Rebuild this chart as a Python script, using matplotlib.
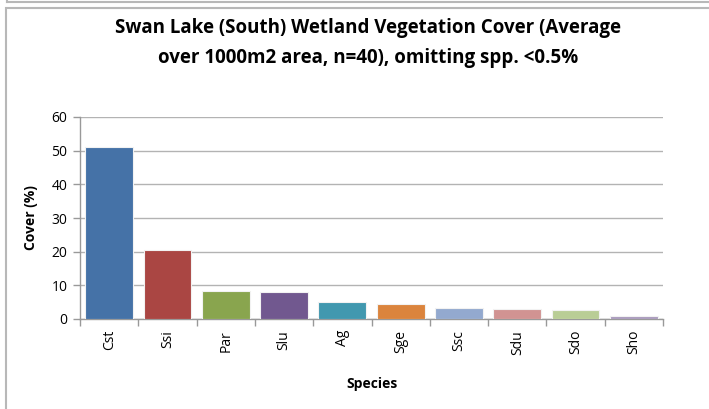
import matplotlib
matplotlib.use("Agg")
import matplotlib.pyplot as plt
from matplotlib.patches import Rectangle
from matplotlib.lines import Line2D

species = ["Cst", "Ssi", "Par", "Slu", "Ag", "Sge", "Ssc", "Sdu", "Sdo", "Sho"]
cover = [51.0, 20.6, 8.4, 8.1, 5.0, 4.4, 3.4, 3.1, 2.6, 0.8]
colors = ["#4572A7", "#AA4643", "#89A54E", "#71588F", "#4198AF",
          "#DB843D", "#93A9CF", "#D19392", "#B9CD96", "#A99BBD"]
yticks = [0, 10, 20, 30, 40, 50, 60]

plt.rcParams['font.family'] = ['Open Sans', 'DejaVu Sans']

W, H = 709, 409
fig = plt.figure(figsize=(W / 100, H / 100), dpi=100)

# chart frames
fig.add_artist(Rectangle((6 / W, -0.1), 1.2, (H - 8) / H + 0.1, transform=fig.transFigure,
                         fill=False, edgecolor="#b8b8b8", linewidth=1.5))
fig.add_artist(Line2D([7 / W, 1.0], [1 - 2 / H, 1 - 2 / H], transform=fig.transFigure,
                      color="#b8b8b8", linewidth=1.5))
fig.add_artist(Line2D([7 / W, 7 / W], [1 - 2 / H, 1.0], transform=fig.transFigure,
                      color="#b8b8b8", linewidth=1.5))

left, right, top, bottom = 80, 663, 117, 319
ax = fig.add_axes([left / W, 1 - bottom / H, (right - left) / W, (bottom - top) / H])

x = list(range(len(species)))
ax.bar(x, cover, width=0.82, color=colors, edgecolor="#f2f2f2", linewidth=0.8, zorder=3)

ax.set_xlim(-0.5, len(species) - 0.5)
ax.set_ylim(0, 60)
ax.set_yticks(yticks)
ax.set_yticklabels([str(v) for v in yticks], fontsize=10)
ax.grid(axis="y", color="#b3b3b3", linewidth=1.0, zorder=0)

ax.set_xticks(x)
ax.set_xticklabels(species, rotation=90, fontsize=10)
ax.tick_params(axis="x", length=0, pad=8)
ax.set_xticks([i - 0.5 for i in range(len(species) + 1)], minor=True)
ax.tick_params(axis="x", which="minor", length=5, color="#999999", width=1)
ax.tick_params(axis="y", length=5, color="#999999", width=1, pad=4)

for s in ["top", "right"]:
    ax.spines[s].set_visible(False)
for s in ["left", "bottom"]:
    ax.spines[s].set_color("#999999")
    ax.spines[s].set_linewidth(1)

ax.set_ylabel("Cover (%)", fontsize=10, fontweight="bold", labelpad=10)
ax.set_xlabel("Species", fontsize=10, fontweight="bold", labelpad=16)

fig.text(368 / W, 1 - 43 / H,
         "Swan Lake (South) Wetland Vegetation Cover (Average\nover 1000m2 area, n=40), omitting spp. <0.5%",
         ha="center", va="center", fontsize=13.5, fontweight="bold", linespacing=1.65)

fig.savefig("out.png", dpi=100)
